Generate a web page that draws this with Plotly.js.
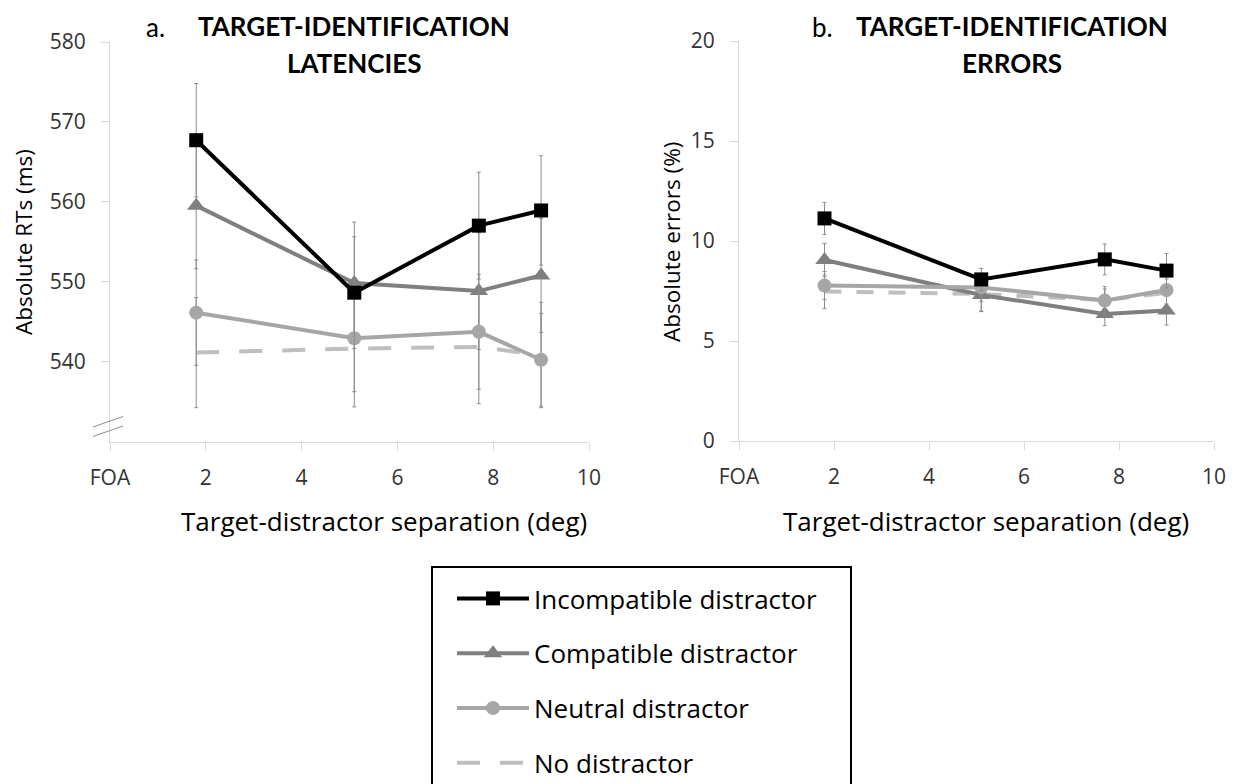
<!DOCTYPE html>
<html>
<head>
<meta charset="utf-8">
<script src="https://cdn.plot.ly/plotly-3.0.1.min.js"></script>
<style>html,body{margin:0;padding:0;background:#fff;}#chart{width:1236px;height:784px;}</style>
</head>
<body>
<div id="chart"></div>
<script>
// ---- data ----
const separation = [1.8, 5.1, 7.7, 9.0];
const xTickVals = [0, 2, 4, 6, 8, 10];
const xTickText = ['FOA', '2', '4', '6', '8', '10'];
const rtTickVals = [540, 550, 560, 570, 580];
const errTickVals = [0, 5, 10, 15, 20];

const seriesNames = ['Incompatible distractor', 'Compatible distractor', 'Neutral distractor', 'No distractor'];

const rtIncompatible = [567.7, 548.6, 557.0, 558.9];
const rtIncompatibleSE = [7.1, 7.0, 6.7, 6.85];
const rtCompatible = [559.5, 549.8, 548.8, 550.75];
const rtCompatibleSE = [7.9, 7.65, 7.3, 7.15];
const rtNeutral = [546.1, 542.9, 543.7, 540.2];
const rtNeutralSE = [6.6, 6.7, 7.2, 5.8];
const rtNone = [541.1, 541.6, 541.8, 540.8];
const rtNoneSE = [6.9, 7.3, 7.1, 6.6];

const errIncompatible = [11.13, 8.08, 9.08, 8.52];
const errIncompatibleSE = [0.8, 0.55, 0.77, 0.86];
const errCompatible = [9.05, 7.3, 6.35, 6.52];
const errCompatibleSE = [0.83, 0.83, 0.58, 0.72];
const errNeutral = [7.77, 7.68, 7.02, 7.55];
const errNeutralSE = [0.7, 0.7, 0.7, 0.7];
const errNone = [7.47, 7.35, 7.05, 7.4];
const errNoneSE = [0.84, 0.85, 0.55, 0.7];

// ---- styles ----
const FONT = '"Open Sans", "Noto Sans", sans-serif';
const TFONT = 'Lato, "Open Sans", sans-serif';
const styles = {
  inc: {color: '#000000', symbol: 'square', size: 14},
  com: {color: '#7f7f7f', symbol: 'triangle-up', size: 16},
  neu: {color: '#a6a6a6', symbol: 'circle', size: 14},
  non: {color: '#bfbfbf'}
};
const ebar = (arr) => ({type: 'data', array: arr, visible: true, color: '#8c8c8c', thickness: 1, width: 2});

function mk(y, se, st, name, rank, xa, ya, showleg, dash) {
  const t = {
    x: separation, y: y, type: 'scatter', name: name, legendrank: rank,
    xaxis: xa, yaxis: ya, showlegend: showleg, legendgroup: name,
    error_y: ebar(se),
    line: {color: st.color, width: 4}
  };
  if (dash) { t.mode = 'lines'; t.line.dash = dash; }
  else { t.mode = 'lines+markers'; t.marker = {symbol: st.symbol, size: st.size, color: st.color}; }
  return t;
}

const data = [
  mk(rtNone, rtNoneSE, styles.non, seriesNames[3], 4, 'x', 'y', true, '23px,20px'),
  mk(rtCompatible, rtCompatibleSE, styles.com, seriesNames[1], 2, 'x', 'y', true),
  mk(rtNeutral, rtNeutralSE, styles.neu, seriesNames[2], 3, 'x', 'y', true),
  mk(rtIncompatible, rtIncompatibleSE, styles.inc, seriesNames[0], 1, 'x', 'y', true),
  mk(errNone, errNoneSE, styles.non, seriesNames[3], 4, 'x2', 'y2', false, '17px,15px'),
  mk(errCompatible, errCompatibleSE, styles.com, seriesNames[1], 2, 'x2', 'y2', false),
  mk(errNeutral, errNeutralSE, styles.neu, seriesNames[2], 3, 'x2', 'y2', false),
  mk(errIncompatible, errIncompatibleSE, styles.inc, seriesNames[0], 1, 'x2', 'y2', false)
];

const W = 1236, H = 784;
const px = (v) => v / W;
const py = (v) => 1 - v / H;

const axCommon = {
  showgrid: false, zeroline: false, showline: true, linecolor: '#d9d9d9', linewidth: 1,
  ticks: 'outside', tickcolor: '#d9d9d9', ticklen: 8, tickwidth: 1,
  tickfont: {family: FONT, size: 21, color: '#333333'}, fixedrange: true, automargin: false
};

function ann(x, y, text, size, opts) {
  return Object.assign({xref: 'paper', yref: 'paper', x: px(x), y: py(y), text: text, showarrow: false,
    font: {family: FONT, size: size, color: '#000'}, xanchor: 'center', yanchor: 'middle'}, opts || {});
}
const tf = {font: {family: TFONT, size: 26, color: '#000'}};

const layout = {
  width: W, height: H,
  margin: {l: 0, r: 0, t: 0, b: 0, pad: 0, autoexpand: false},
  paper_bgcolor: '#ffffff', plot_bgcolor: '#ffffff',
  font: {family: FONT, color: '#000000'},
  showlegend: true,
  legend: {
    x: px(452), xanchor: 'left', y: py(575), yanchor: 'top',
    borderwidth: 0, bgcolor: 'rgba(0,0,0,0)',
    font: {family: FONT, size: 26, color: '#000000'},
    tracegroupgap: 18, traceorder: 'grouped', itemwidth: 72
  },
  xaxis: Object.assign({}, axCommon, {
    domain: [px(110), px(589)], range: [0, 10], tickvals: xTickVals, ticktext: xTickText,
    anchor: 'y', ticklabelstandoff: 9
  }),
  yaxis: Object.assign({}, axCommon, {
    domain: [py(442), py(42)], range: [529.9, 580], tickvals: rtTickVals,
    anchor: 'x', ticklabelstandoff: 11
  }),
  xaxis2: Object.assign({}, axCommon, {
    domain: [px(739), px(1214)], range: [0, 10], tickvals: xTickVals, ticktext: xTickText,
    anchor: 'y2', ticklabelstandoff: 9
  }),
  yaxis2: Object.assign({}, axCommon, {
    domain: [py(441), py(41)], range: [0, 20], tickvals: errTickVals,
    anchor: 'x2', ticklabelstandoff: 11
  }),
  annotations: [
    ann(155, 27, 'a.', 26, tf),
    ann(353.5, 26, '<b>TARGET-IDENTIFICATION</b>', 26, tf),
    ann(353.5, 63, '<b>LATENCIES</b>', 26, tf),
    ann(822, 27, 'b.', 26, tf),
    ann(1012, 26, '<b>TARGET-IDENTIFICATION</b>', 26, tf),
    ann(1012, 63, '<b>ERRORS</b>', 26, tf),
    ann(384, 521, 'Target-distractor separation (deg)', 26),
    ann(986, 521, 'Target-distractor separation (deg)', 26),
    ann(23, 242, 'Absolute RTs (ms)', 22.5, {textangle: -90}),
    ann(671, 242, 'Absolute errors (%)', 22.5, {textangle: -90})
  ],
  shapes: [
    {type: 'line', xref: 'paper', yref: 'paper', x0: px(93), y0: py(427), x1: px(123), y1: py(416.5), line: {color: '#8c8c8c', width: 1}},
    {type: 'line', xref: 'paper', yref: 'paper', x0: px(93), y0: py(436.5), x1: px(123), y1: py(426), line: {color: '#8c8c8c', width: 1}},
    {type: 'rect', xref: 'paper', yref: 'paper', x0: px(432), y0: py(567), x1: px(851), y1: py(800), line: {color: '#000', width: 2}, fillcolor: 'rgba(0,0,0,0)'}
  ]
};

Plotly.newPlot('chart', data, layout, {displayModeBar: false, staticPlot: true});
</script>
</body>
</html>
